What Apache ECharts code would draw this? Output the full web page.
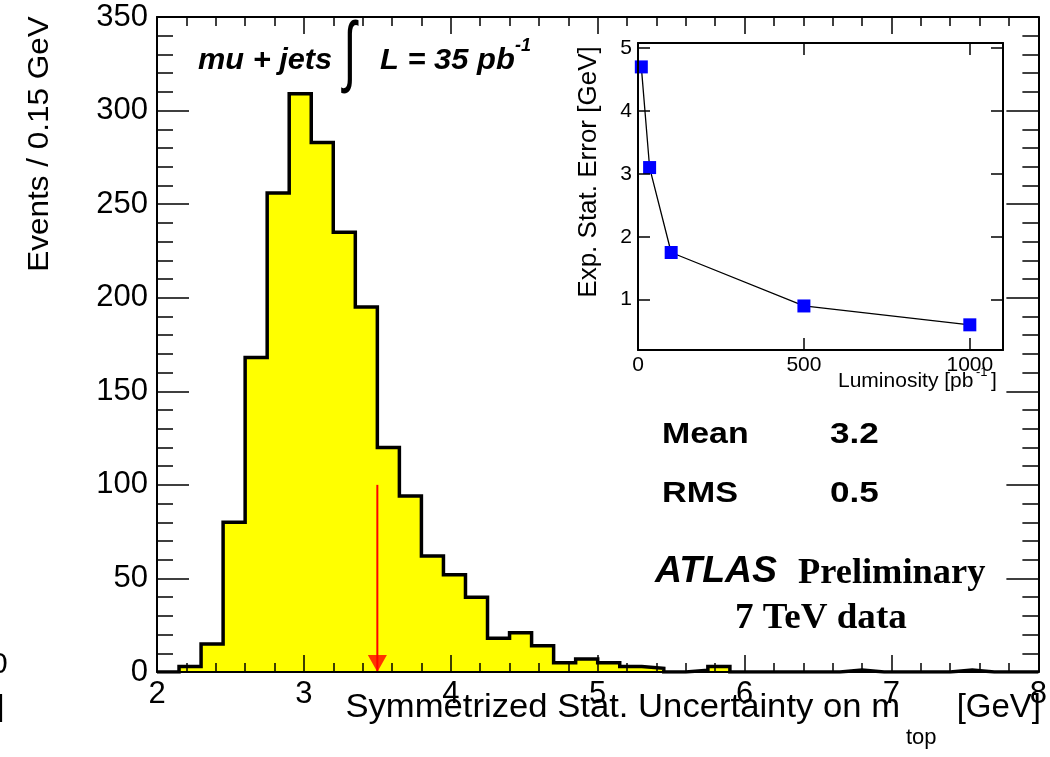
<!DOCTYPE html>
<html>
<head>
<meta charset="utf-8">
<script src="https://cdn.jsdelivr.net/npm/echarts@6/dist/echarts.min.js"></script>
<style>
  html, body { margin: 0; padding: 0; background: #ffffff; }
  #chart { width: 1050px; height: 757px; }
</style>
</head>
<body>
<div id="chart"></div>
<script>
// Histogram: left edges of the 0.15 GeV bins and their event counts
const binEdges = [2.00, 2.15, 2.30, 2.45, 2.60, 2.75, 2.90, 3.05, 3.20, 3.35,
                  3.50, 3.65, 3.80, 3.95, 4.10, 4.25, 4.40, 4.55, 4.70, 4.85,
                  5.00, 5.15, 5.30, 5.45, 5.60, 5.75, 5.90, 6.05, 6.20, 6.35,
                  6.50, 6.65, 6.80, 6.95, 7.10, 7.25, 7.40, 7.55, 7.70, 7.85, 8.00];
const binCounts = [0, 3, 15, 80, 168, 256, 309, 283, 235, 195,
                   120, 94, 62, 52, 40, 18, 21, 14, 5, 7,
                   5, 3, 2, 0, 1, 3, 0, 0, 0, 0,
                   0, 1, 0, 0, 0, 0, 1, 0, 0, 0];
// Expected value marker (red arrow)
const markerX = 3.5;
const markerTop = 100;
// Inset: expected statistical error vs integrated luminosity
const lumi = [10, 35, 100, 500, 1000];
const statError = [4.7, 3.1, 1.75, 0.9, 0.6];
const insetXTicks = [0, 500, 1000];
const insetYTicks = [1, 2, 3, 4, 5];

// step outline: one point per left edge, plus the closing right edge
const histData = binCounts.map((c, i) => [binEdges[i], c]);
histData.push([binEdges[binEdges.length - 1], binCounts[binCounts.length - 1]]);

const SANS = '"Liberation Sans", Arial, Helvetica, sans-serif';
const SERIF = '"Liberation Serif", "Times New Roman", serif';
const plain = v => String(v);

function txt(x, y, text, font, opts) {
  opts = opts || {};
  return {
    type: 'text', x: x, y: y,
    rotation: opts.rotation || 0,
    scaleX: opts.scaleX || 1,
    scaleY: opts.scaleY || 1,
    z: 20,
    style: {
      text: text, font: font, fill: opts.fill || '#000',
      textAlign: opts.align || 'left', textVerticalAlign: 'middle'
    }
  };
}

const frameAxis = {
  axisLine: { show: true, onZero: false, lineStyle: { color: '#000', width: 2 } },
  splitLine: { show: false },
  z: 10
};
const mainTick = (len) => ({ show: true, inside: true, length: len, lineStyle: { color: '#000', width: 1.5 } });
const insetTick = (vals) => ({ show: true, inside: true, length: 12, customValues: vals, lineStyle: { color: '#000', width: 1.5 } });

const chart = echarts.init(document.getElementById('chart'), null, { renderer: 'canvas' });
chart.setOption({
  animation: false,
  backgroundColor: '#ffffff',
  grid: [
    { left: 157, top: 17, width: 886, height: 655, containLabel: false },
    { left: 638, top: 43, width: 365, height: 307, containLabel: false,
      show: true, backgroundColor: '#ffffff', borderWidth: 0 }
  ],
  xAxis: [
    Object.assign({}, frameAxis, {
      type: 'value', gridIndex: 0, position: 'bottom', min: 2, max: 8, interval: 1,
      axisTick: mainTick(17),
      minorTick: { show: true, splitNumber: 5, length: 9, lineStyle: { color: '#000', width: 1.5 } },
      axisLabel: { show: true, margin: 7, color: '#000', fontSize: 31, fontFamily: SANS, formatter: plain }
    }),
    Object.assign({}, frameAxis, {
      type: 'value', gridIndex: 0, position: 'top', min: 2, max: 8, interval: 1,
      axisTick: mainTick(17),
      minorTick: { show: true, splitNumber: 5, length: 9, lineStyle: { color: '#000', width: 1.5 } },
      axisLabel: { show: false }
    }),
    Object.assign({}, frameAxis, {
      type: 'value', gridIndex: 1, position: 'bottom', min: 0, max: 1100,
      axisTick: insetTick(insetXTicks),
      axisLabel: { show: true, margin: 5, color: '#000', fontSize: 21, fontFamily: SANS,
                   customValues: insetXTicks, formatter: plain }
    }),
    Object.assign({}, frameAxis, {
      type: 'value', gridIndex: 1, position: 'top', min: 0, max: 1100,
      axisTick: insetTick(insetXTicks),
      axisLabel: { show: false }
    })
  ],
  yAxis: [
    Object.assign({}, frameAxis, {
      type: 'value', gridIndex: 0, position: 'left', min: 0, max: 350, interval: 50,
      axisTick: mainTick(32),
      minorTick: { show: true, splitNumber: 5, length: 16, lineStyle: { color: '#000', width: 1.5 } },
      axisLabel: { show: true, margin: 9, color: '#000', fontSize: 31, fontFamily: SANS,
                   padding: [6, 0, 0, 0], formatter: plain }
    }),
    Object.assign({}, frameAxis, {
      type: 'value', gridIndex: 0, position: 'right', min: 0, max: 350, interval: 50,
      axisTick: mainTick(32),
      minorTick: { show: true, splitNumber: 5, length: 16, lineStyle: { color: '#000', width: 1.5 } },
      axisLabel: { show: false }
    }),
    Object.assign({}, frameAxis, {
      type: 'value', gridIndex: 1, position: 'left', min: 0.2, max: 5.08,
      axisTick: insetTick(insetYTicks),
      axisLabel: { show: true, margin: 6, color: '#000', fontSize: 21, fontFamily: SANS,
                   customValues: insetYTicks, formatter: plain }
    }),
    Object.assign({}, frameAxis, {
      type: 'value', gridIndex: 1, position: 'right', min: 0.2, max: 5.08,
      axisTick: insetTick(insetYTicks),
      axisLabel: { show: false }
    })
  ],
  series: [
    {
      name: 'events', type: 'line', xAxisIndex: 0, yAxisIndex: 0,
      data: histData, step: 'end', symbol: 'none', clip: true,
      lineStyle: { color: '#000', width: 3.5, join: 'miter' },
      areaStyle: { color: '#ffff00', opacity: 1, origin: 'start' },
      z: 2
    },
    {
      name: 'marker', type: 'line', xAxisIndex: 0, yAxisIndex: 0,
      data: [[markerX, markerTop], [markerX, 0]], symbol: 'none',
      lineStyle: { color: '#ff0000', width: 2 }, z: 3
    },
    {
      name: 'markerHead', type: 'scatter', xAxisIndex: 0, yAxisIndex: 0,
      data: [[markerX, 0]], symbol: 'triangle', symbolRotate: 180,
      symbolSize: [19, 17], symbolOffset: [0, -8.5],
      itemStyle: { color: '#ff0000' }, z: 4
    },
    {
      name: 'statError', type: 'line', xAxisIndex: 2, yAxisIndex: 2,
      data: lumi.map((l, i) => [l, statError[i]]),
      symbol: 'rect', symbolSize: 13,
      itemStyle: { color: '#0000ff' },
      lineStyle: { color: '#000', width: 1.3 }, z: 5
    }
  ],
  graphic: [
    // axis titles
    txt(40, 144, 'Events / 0.15 GeV', '30px ' + SANS, { rotation: Math.PI / 2, scaleX: 1.05, align: 'center' }),
    txt(900, 708, 'Symmetrized Stat. Uncertainty on m', '33px ' + SANS, { align: 'right', scaleX: 1.05 }),
    txt(906, 738, 'top', '22px ' + SANS),
    txt(1041, 708, '[GeV]', '33px ' + SANS, { align: 'right' }),
    txt(589, 172, 'Exp. Stat. Error [GeV]', '26px ' + SANS, { rotation: Math.PI / 2, align: 'center' }),
    txt(838, 381, 'Luminosity [pb', '21px ' + SANS),
    txt(976, 372, '-1', '13px ' + SANS),
    txt(991, 381, ']', '21px ' + SANS),
    // channel and luminosity
    txt(198, 61, 'mu + jets', 'italic bold 29px ' + SANS, { scaleX: 1.06 }),
    txt(350, 57, '\u222B', '200 78px "DejaVu Sans", sans-serif', { align: 'center', scaleX: 0.6 }),
    txt(380, 61, 'L = 35 pb', 'italic bold 30px ' + SANS, { scaleX: 1.03 }),
    txt(515, 46, '-1', 'italic bold 18px ' + SANS),
    // statistics box
    txt(662, 435, 'Mean', 'bold 30px ' + SANS, { scaleX: 1.13 }),
    txt(830, 435, '3.2', 'bold 30px ' + SANS, { scaleX: 1.17 }),
    txt(662, 494, 'RMS', 'bold 30px ' + SANS, { scaleX: 1.14 }),
    txt(830, 494, '0.5', 'bold 30px ' + SANS, { scaleX: 1.17 }),
    // experiment label
    txt(655, 572, 'ATLAS', 'italic bold 36px ' + SANS, { scaleX: 1.04 }),
    txt(798, 574, 'Preliminary', 'bold 35px ' + SERIF, { scaleX: 1.04 }),
    txt(735, 619, '7 TeV data', 'bold 35px ' + SERIF, { scaleX: 1.06 }),
    // clipped fragments at the left edge
    txt(-9, 665, '0', '30px ' + SANS),
    txt(-3, 708, '|', '30px ' + SANS)
  ]
});
</script>
</body>
</html>
